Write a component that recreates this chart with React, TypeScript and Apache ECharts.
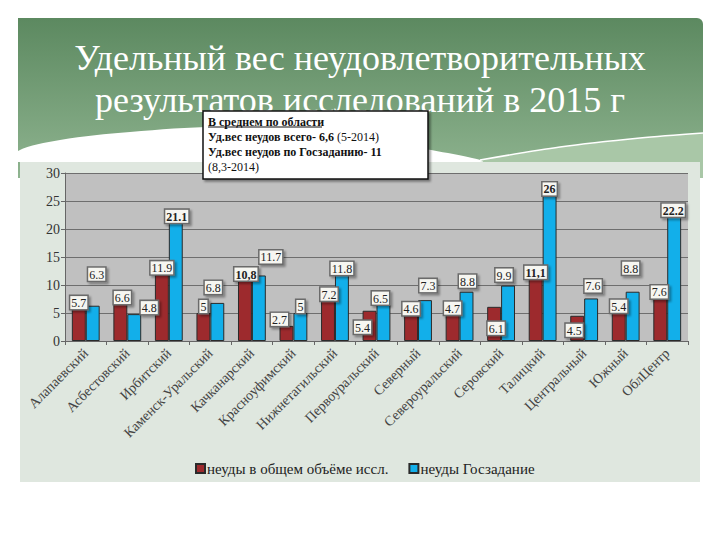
import React, { useEffect, useRef } from "react";
import * as echarts from "echarts";

const categories = [
  "Алапаевский",
  "Асбестовский",
  "Ирбитский",
  "Каменск-Уральский",
  "Качканарский",
  "Красноуфимский",
  "Нижнетагильский",
  "Первоуральский",
  "Северный",
  "Североуральский",
  "Серовский",
  "Талицкий",
  "Центральный",
  "Южный",
  "ОблЦентр",
];

const totalValues = [5.7, 6.6, 11.9, 5, 10.8, 2.7, 7.2, 5.4, 4.6, 4.7, 6.1, 11.1, 4.5, 5.4, 7.6];
const stateValues = [6.3, 4.8, 21.1, 6.8, 11.7, 5, 11.8, 6.5, 7.3, 8.8, 9.9, 26, 7.6, 8.8, 22.2];

const seriesNames = ["неуды в общем объёме иссл.", "неуды Госзадание"];
const yTicks = { min: 0, max: 30, interval: 5 };

// label styling (which labels are bold, how each label box is nudged)
const boldTotal = [4, 11];
const boldState = [2, 11, 14];
const totalLabelShift = [
  [0, 0], [2, 0], [0, 0], [0, 0], [1, 0], [-7, 0], [1, 0], [-7, 23],
  [0, 0], [0, 0], [2, 28], [0, 0], [-3, 21], [0, 2], [-1, 0],
];
const stateLabelShift = [
  [4, -25], [15, 0], [1, 0], [-4, -9], [12, -12], [0, 0], [0, 0], [-3, 0],
  [3, -8], [1, -4], [-4, -4], [0, 0], [2, -6], [-2, -17], [-1, 0],
];

const titleLines = ["Удельный вес неудовлетворительных", "результатов исследований в 2015 г"];

const SERIF = "Liberation Serif";

const labelBase = {
  show: true,
  position: "top",
  distance: 0,
  backgroundColor: "#f6f6f1",
  borderColor: "#6a6a6a",
  borderWidth: 1.5,
  padding: [1, 1, 0, 1],
  fontFamily: SERIF,
  fontSize: 12,
  color: "#222",
  shadowColor: "rgba(0,0,0,0.35)",
  shadowOffsetX: 2,
  shadowOffsetY: 2,
  shadowBlur: 2,
};

function buildData(values: number[], bold: number[], shift: number[][], comma: boolean) {
  return values.map((v, i) => {
    const isBold = bold.includes(i);
    const txt = isBold && comma ? String(v).replace(".", ",") : String(v);
    return {
      value: v,
      label: {
        ...labelBase,
        offset: shift[i],
        fontWeight: isBold ? "bold" : "normal",
        formatter: txt,
      },
    };
  });
}

export default function App() {
  const ref = useRef<HTMLDivElement>(null);

  useEffect(() => {
    if (!ref.current) return;
    const chart = echarts.init(ref.current, undefined, { renderer: "svg" });

    const option: any = {
      animation: false,
      backgroundColor: "#ffffff",
      textStyle: { fontFamily: SERIF },
      graphic: [
        {
          type: "rect",
          z: -20,
          shape: { x: 18, y: 18, width: 685, height: 160, r: [0, 6, 0, 0] },
          style: {
            fill: new echarts.graphic.LinearGradient(0, 0, 0, 1, [
              { offset: 0, color: "#5c8960" },
              { offset: 1, color: "#8fb490" },
            ]),
          },
        },
        {
          type: "polygon",
          z: -19,
          shape: {
            points: [[440, 178], [480, 160], [560, 147], [640, 138], [703, 133], [703, 178]],
          },
          style: { fill: "#a9c7a7" },
        },
        {
          type: "polyline",
          z: -18,
          shape: {
            points: [[480, 160], [560, 147], [640, 138], [703, 133]],
            smooth: 0.3,
          },
          style: { stroke: "#ffffff", lineWidth: 1.5, fill: null },
        },
        {
          type: "polygon",
          z: -17,
          shape: {
            points: [[18, 151], [60, 140], [130, 132], [220, 127], [320, 133], [420, 148], [480, 162], [18, 162]],
            smooth: 0.35,
          },
          style: { fill: "#ffffff" },
        },
        {
          type: "rect",
          z: -16,
          shape: { x: 20, y: 162, width: 680, height: 320 },
          style: { fill: "#dfe7df" },
        },
        {
          type: "text",
          z: -15,
          x: 360,
          y: 58,
          style: {
            text: titleLines[0],
            fontFamily: SERIF,
            fontSize: 36,
            fill: "#ffffff",
            textAlign: "center",
            textVerticalAlign: "middle",
          },
        },
        {
          type: "text",
          z: -15,
          x: 360,
          y: 100,
          style: {
            text: titleLines[1],
            fontFamily: SERIF,
            fontSize: 36,
            fill: "#ffffff",
            textAlign: "center",
            textVerticalAlign: "middle",
          },
        },
        {
          type: "rect",
          z: 100,
          shape: { x: 203, y: 111, width: 225, height: 68 },
          style: {
            fill: "#ffffff",
            stroke: "#111",
            lineWidth: 1.5,
            shadowColor: "rgba(0,0,0,0.4)",
            shadowOffsetX: 2,
            shadowOffsetY: 2,
            shadowBlur: 2,
          },
        },
        {
          type: "text",
          z: 101,
          x: 208,
          y: 114,
          style: {
            text:
              "{b|В среднем по области}\n{b|Уд.вес неудов всего- 6,6}{n| (5-2014)}\n{b|Уд.вес неудов по Госзаданию- 11}\n{n|(8,3-2014)}",
            fill: "#111",
            fontFamily: SERIF,
            rich: {
              b: { fontFamily: SERIF, fontSize: 12, fontWeight: "bold", lineHeight: 15, fill: "#111" },
              n: { fontFamily: SERIF, fontSize: 12, lineHeight: 15, fill: "#111" },
            },
          },
        },
        {
          type: "line",
          z: 101,
          shape: { x1: 208, y1: 127, x2: 322, y2: 127 },
          style: { stroke: "#111", lineWidth: 1 },
        },
      ],
      legend: {
        left: 190,
        top: 456,
        icon: "rect",
        itemWidth: 9,
        itemHeight: 9,
        itemGap: 20,
        textStyle: { fontFamily: SERIF, fontSize: 15, color: "#222", padding: [0, 0, 0, -3] },
        data: seriesNames,
      },
      grid: {
        left: 65,
        right: 32,
        top: 173,
        height: 168,
        show: true,
        backgroundColor: "#c0c0c0",
        borderWidth: 0,
      },
      xAxis: {
        type: "category",
        data: categories,
        axisLine: { lineStyle: { color: "#666", width: 1 } },
        axisTick: { show: true, length: 4, lineStyle: { color: "#666" } },
        axisLabel: {
          rotate: 45,
          margin: 10,
          interval: 0,
          fontFamily: SERIF,
          fontSize: 14,
          color: "#444",
        },
      },
      yAxis: {
        type: "value",
        min: yTicks.min,
        max: yTicks.max,
        interval: yTicks.interval,
        axisLine: { show: true, lineStyle: { color: "#666" } },
        axisTick: { show: true, length: 4, lineStyle: { color: "#666" } },
        axisLabel: { fontFamily: SERIF, fontSize: 14, color: "#333", margin: 5 },
        splitLine: { lineStyle: { color: "#6e6e6e", width: 1.2 } },
      },
      series: [
        {
          name: seriesNames[0],
          type: "bar",
          barGap: "0%",
          barCategoryGap: "33%",
          itemStyle: { color: "#9d2a2d", borderColor: "#2a2a2a", borderWidth: 1 },
          data: buildData(totalValues, boldTotal, totalLabelShift, true),
        },
        {
          name: seriesNames[1],
          type: "bar",
          barGap: "0%",
          barCategoryGap: "33%",
          itemStyle: { color: "#12afea", borderColor: "#2a2a2a", borderWidth: 1 },
          data: buildData(stateValues, boldState, stateLabelShift, false),
        },
      ],
    };

    chart.setOption(option);
    return () => chart.dispose();
  }, []);

  return (
    <div
      ref={ref}
      style={{ position: "fixed", left: 0, top: 0, width: 720, height: 540 }}
    />
  );
}
